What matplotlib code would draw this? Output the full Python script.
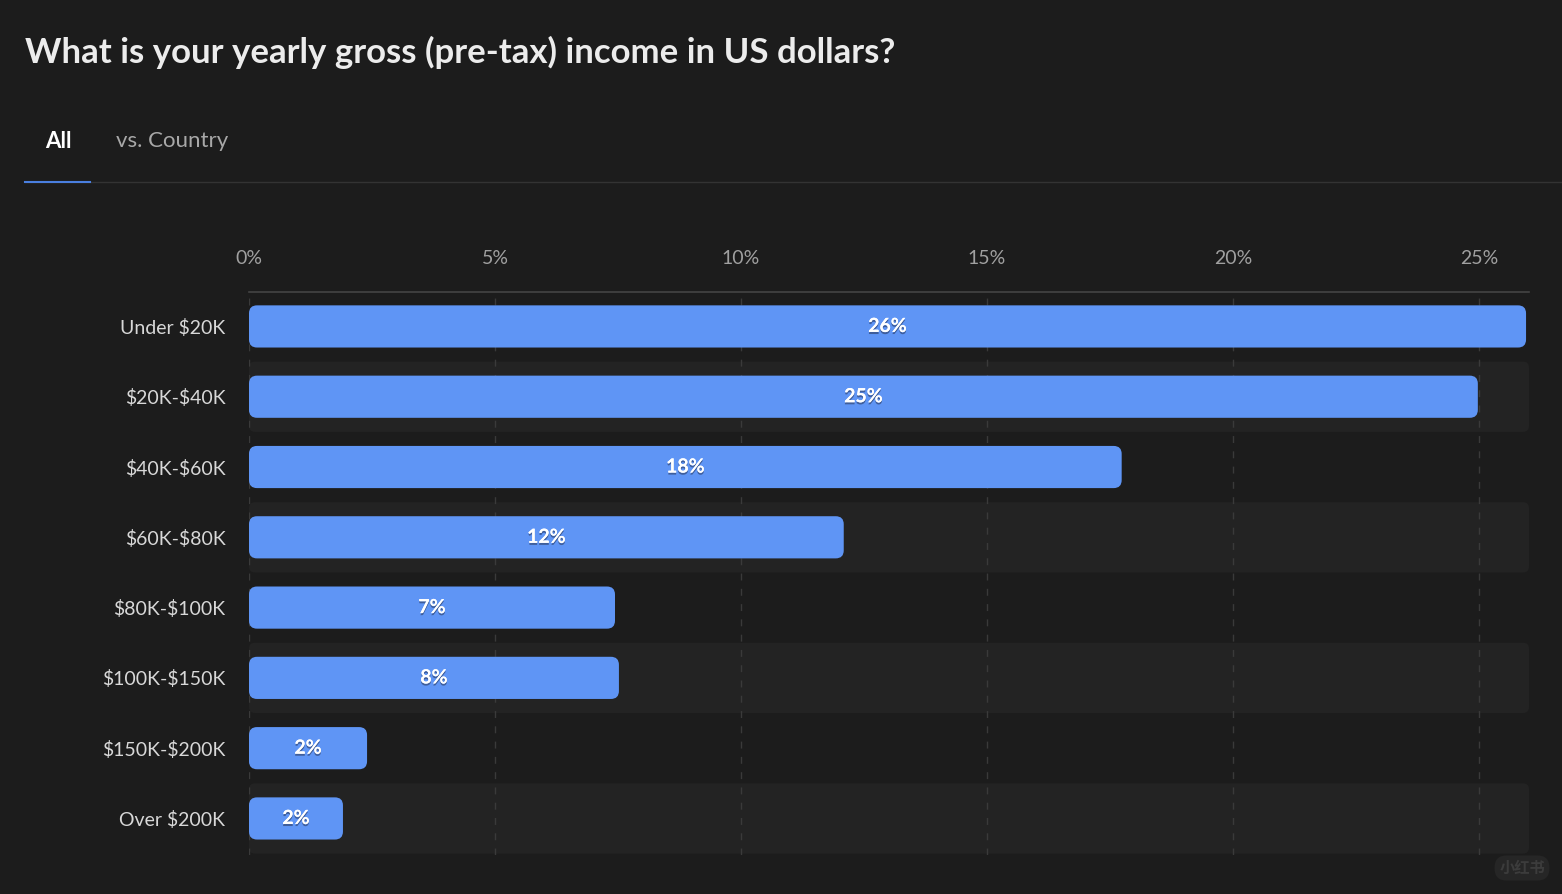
import matplotlib.pyplot as plt
from matplotlib.patches import FancyBboxPatch
import matplotlib.patheffects as pe

# data
categories = ["Under $20K", "$20K-$40K", "$40K-$60K", "$60K-$80K",
              "$80K-$100K", "$100K-$150K", "$150K-$200K", "Over $200K"]
values = [25.96, 24.98, 17.74, 12.09, 7.44, 7.52, 2.40, 1.91]
ticks = [0, 5, 10, 15, 20, 25]

bg = "#1c1c1c"
band = "#232323"
bar_color = "#5f95f5"

plt.rcParams['font.family'] = ['Lato', 'DejaVu Sans']

fig = plt.figure(figsize=(15.62, 8.94), dpi=100)
fig.patch.set_facecolor(bg)

# header
fig.text(25 / 1562, 1 - 52 / 894, "What is your yearly gross (pre-tax) income in US dollars?",
         color="#ececec", fontsize=25, fontweight="bold", va="center", ha="left")
fig.text(45 / 1562, 1 - 141 / 894, "All", color="#ffffff", fontsize=16,
         fontweight="bold", va="center", ha="left")
fig.text(116 / 1562, 1 - 141 / 894, "vs. Country", color="#a8a8a8", fontsize=16,
         va="center", ha="left")
fig.add_artist(plt.Line2D([25 / 1562, 1], [1 - 182 / 894] * 2, color="#333333", lw=1))
fig.add_artist(plt.Line2D([25 / 1562, 90 / 1562], [1 - 182 / 894] * 2, color="#4a7fe0", lw=1.5))

ax = fig.add_axes([249 / 1562, 1 - 855 / 894, 1280 / 1562, 563 / 894])
ax.set_facecolor(bg)

xmax = 26.02
ax.set_xlim(0, xmax)
ax.set_ylim(7.52, -0.49)

# px per unit for rounding
px_x = 1280 / xmax
px_y = 563 / (7.52 + 0.49)
aspect = px_x / px_y

# alternating bands
for i in range(len(categories)):
    if i % 2 == 1:
        ax.add_patch(FancyBboxPatch((0, i - 0.5), xmax, 1.0,
                                    boxstyle="round,pad=0,rounding_size=%f" % (6 / px_x),
                                    mutation_aspect=aspect, fc=band, ec="none", zorder=0))

# grid
for t in ticks:
    ax.axvline(t, color="#3a3a3a", lw=1, ls=(0, (5, 6)), zorder=1)

# bars
for i, v in enumerate(values):
    ax.add_patch(FancyBboxPatch((0, i - 0.3), v, 0.6,
                                boxstyle="round,pad=0,rounding_size=%f" % (8 / px_x),
                                mutation_aspect=aspect, fc=bar_color, ec="none", zorder=3))
    ax.text(v / 2, i, "%d%%" % round(v), color="white", fontsize=14, fontweight="bold",
            ha="center", va="center", zorder=4,
            path_effects=[pe.withSimplePatchShadow(offset=(0, -1.5), shadow_rgbFace="#2a3a60", alpha=0.6),
                          pe.Normal()])

ax.set_yticks(range(len(categories)))
ax.set_yticklabels([c.replace("$", r"\$") for c in categories], color="#d8d8d8", fontsize=14)
ax.set_xticks(ticks)
ax.set_xticklabels(["%d%%" % t for t in ticks], color="#a0a0a0", fontsize=14)
ax.xaxis.tick_top()
ax.tick_params(axis="x", length=0, pad=18)
ax.tick_params(axis="y", length=0, pad=17)

for s in ["right", "bottom", "left"]:
    ax.spines[s].set_visible(False)
ax.spines["top"].set_color("#444444")
ax.spines["top"].set_linewidth(1.2)

# watermark
fig.text(1522 / 1562, 1 - 868 / 894, "小红书", color="#3c3c3c", fontsize=11, fontweight="bold",
         family=["Noto Sans CJK SC", "DejaVu Sans"], ha="center", va="center",
         bbox=dict(boxstyle="round,pad=0.3,rounding_size=0.8", fc="#262626", ec="none"))

plt.savefig("out.png", dpi=100, facecolor=bg)
